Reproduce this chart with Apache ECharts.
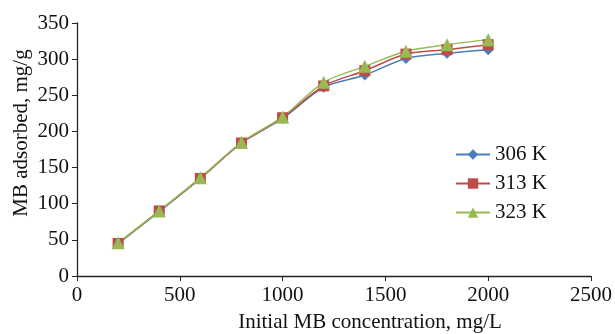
<!DOCTYPE html>
<html>
<head>
<meta charset="utf-8">
<script src="https://cdn.jsdelivr.net/npm/echarts@6/dist/echarts.min.js"></script>
<style>html,body{margin:0;padding:0;background:#fff}#c{width:615px;height:334px}</style>
</head>
<body>
<div id="c"></div>
<script>
var concentrations = [200, 400, 600, 800, 1000, 1200, 1400, 1600, 1800, 2000];
var s306 = [45, 89, 135, 184, 218, 261, 278, 301, 308, 313];
var s313 = [45, 90, 135, 184, 219, 263, 284, 307, 313, 320];
var s323 = [46, 90, 136, 185, 220, 268, 290, 311, 320, 327];
var seriesNames = ['306 K', '313 K', '323 K'];
var xTicks = [0, 500, 1000, 1500, 2000, 2500];
var yTicks = [0, 50, 100, 150, 200, 250, 300, 350];
var xTitle = 'Initial MB concentration, mg/L';
var yTitle = 'MB adsorbed, mg/g';

var FONT = '"Liberation Serif", "Times New Roman", serif';
function pairs(vals) { return concentrations.map(function (c, i) { return [c, vals[i]]; }); }

var chart = echarts.init(document.getElementById('c'), null, { renderer: 'canvas' });
var colors = ['#4a7ebb', '#be4b48', '#98b954'];
var symbols = ['diamond', 'rect', 'triangle'];
var sizes = [11, 11, 13];
var data = [s306, s313, s323];

chart.setOption({
  animation: false,
  grid: { left: 77, right: 19, top: 23, bottom: 58, containLabel: false },
  legend: {
    left: 450, top: 139, orient: 'vertical',
    itemWidth: 34, itemHeight: 13, itemGap: 8,
    textStyle: { fontFamily: FONT, fontSize: 21, color: '#111' },
    data: seriesNames
  },
  graphic: [
    { type: 'text', x: 370, y: 322,
      style: { text: xTitle, font: '21px ' + FONT, fill: '#111', textAlign: 'center', textVerticalAlign: 'middle' } },
    { type: 'text', x: 21, y: 133, rotation: Math.PI / 2,
      style: { text: yTitle, font: '21px ' + FONT, fill: '#111', textAlign: 'center', textVerticalAlign: 'middle' } }
  ],
  xAxis: {
    type: 'value', min: xTicks[0], max: xTicks[xTicks.length - 1], interval: 500,
    axisLine: { lineStyle: { color: '#222', width: 1.3 } },
    axisTick: { show: true, inside: false, length: 5, lineStyle: { color: '#222' } },
    axisLabel: { fontFamily: FONT, fontSize: 21, color: '#111', margin: 9, formatter: function (v) { return String(v); } },
    splitLine: { show: false }
  },
  yAxis: {
    type: 'value', min: yTicks[0], max: yTicks[yTicks.length - 1], interval: 50,
    axisLine: { show: true, lineStyle: { color: '#222', width: 1.3 } },
    axisTick: { show: true, inside: false, length: 5, lineStyle: { color: '#222' } },
    axisLabel: { fontFamily: FONT, fontSize: 21, color: '#111', margin: 8, formatter: function (v) { return String(v); } },
    splitLine: { show: false }
  },
  series: seriesNames.map(function (n, i) {
    return {
      name: n, type: 'line', smooth: 0.3,
      data: pairs(data[i]),
      symbol: symbols[i], symbolSize: sizes[i], showSymbol: true,
      lineStyle: { color: colors[i], width: 1.5 },
      itemStyle: { color: colors[i] }
    };
  })
});
</script>
</body>
</html>
